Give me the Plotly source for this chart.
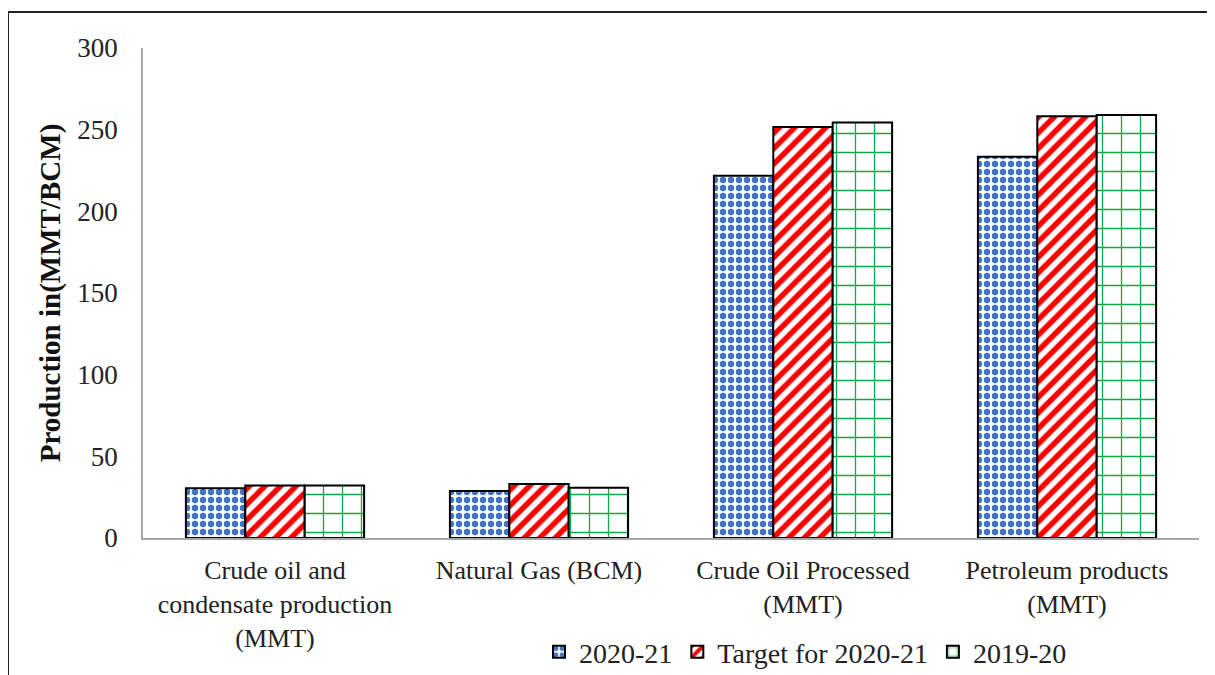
import plotly.graph_objects as go

categories = ["Crude oil and<br>condensate production<br>(MMT)", "Natural Gas (BCM)",
              "Crude Oil Processed<br>(MMT)", "Petroleum products<br>(MMT)"]
series_names = ["2020-21", "Target for 2020-21", "2019-20"]
v_2020_21 = [30.5, 28.7, 221.8, 233.4]
v_target = [32.2, 33.0, 251.7, 258.2]
v_2019_20 = [32.2, 30.8, 254.4, 259.0]
y_ticks = [0, 50, 100, 150, 200, 250, 300]

FONT = "Liberation Serif, Times New Roman, serif"

fig = go.Figure()
fig.add_trace(go.Bar(
    x=categories, y=v_2020_21, name=series_names[0],
    marker=dict(color="white", line=dict(color="black", width=2),
                pattern=dict(shape=".", fgcolor="#4472C4", bgcolor="white",
                             size=8, solidity=0.5, fillmode="replace")),
))
fig.add_trace(go.Bar(
    x=categories, y=v_target, name=series_names[1],
    marker=dict(color="white", line=dict(color="black", width=2),
                pattern=dict(shape="/", fgcolor="#FF0000", bgcolor="white",
                             size=11, solidity=0.5, fillmode="replace")),
))
fig.add_trace(go.Bar(
    x=categories, y=v_2019_20, name=series_names[2],
    marker=dict(color="white", line=dict(color="black", width=2),
                pattern=dict(shape="+", fgcolor="#10A847", bgcolor="white",
                             size=19, solidity=0.13, fillmode="replace")),
))

# outer frame (page x=8, y=12)
PW, PH = 1056, 490
fx = (8 - 143) / PW
fy = (538 - 12) / PH
for x0, y0, x1, y1 in [(fx, fy, 1.05, fy), (fx, fy, fx, -0.35)]:
    fig.add_shape(type="line", xref="paper", yref="paper", x0=x0, y0=y0, x1=x1, y1=y1,
                  line=dict(color="#222222", width=2))

fig.update_layout(
    width=1207, height=667,
    margin=dict(l=135, r=16, t=40, b=137, autoexpand=False),
    paper_bgcolor="white", plot_bgcolor="white",
    barmode="group", bargap=0.325, bargroupgap=0,
    font=dict(family=FONT, size=26, color="#222222"),
    showlegend=True,
    legend=dict(orientation="h", x=0.375, y=(538 - 652) / PH, xanchor="left", yanchor="middle",
                font=dict(family=FONT, size=28, color="#222222"),
                traceorder="normal", itemwidth=30),
    xaxis=dict(showline=True, linecolor="#A6A6A6", linewidth=1.5, ticks="",
               tickfont=dict(family=FONT, size=26, color="#222222"), showgrid=False,
               ticklabelstandoff=8, automargin=False),
    yaxis=dict(range=[0, 300], tickvals=y_ticks, showline=True, linecolor="#A6A6A6",
               linewidth=1.5, ticks="", showgrid=False, zeroline=False,
               tickfont=dict(family=FONT, size=27, color="#222222"),
               ticklabelstandoff=18, automargin=False,
               title=dict(text="<b>Production in(MMT/BCM)</b>",
                          font=dict(family=FONT, size=29, color="#111111"), standoff=8)),
)

fig.write_html("out.html")
